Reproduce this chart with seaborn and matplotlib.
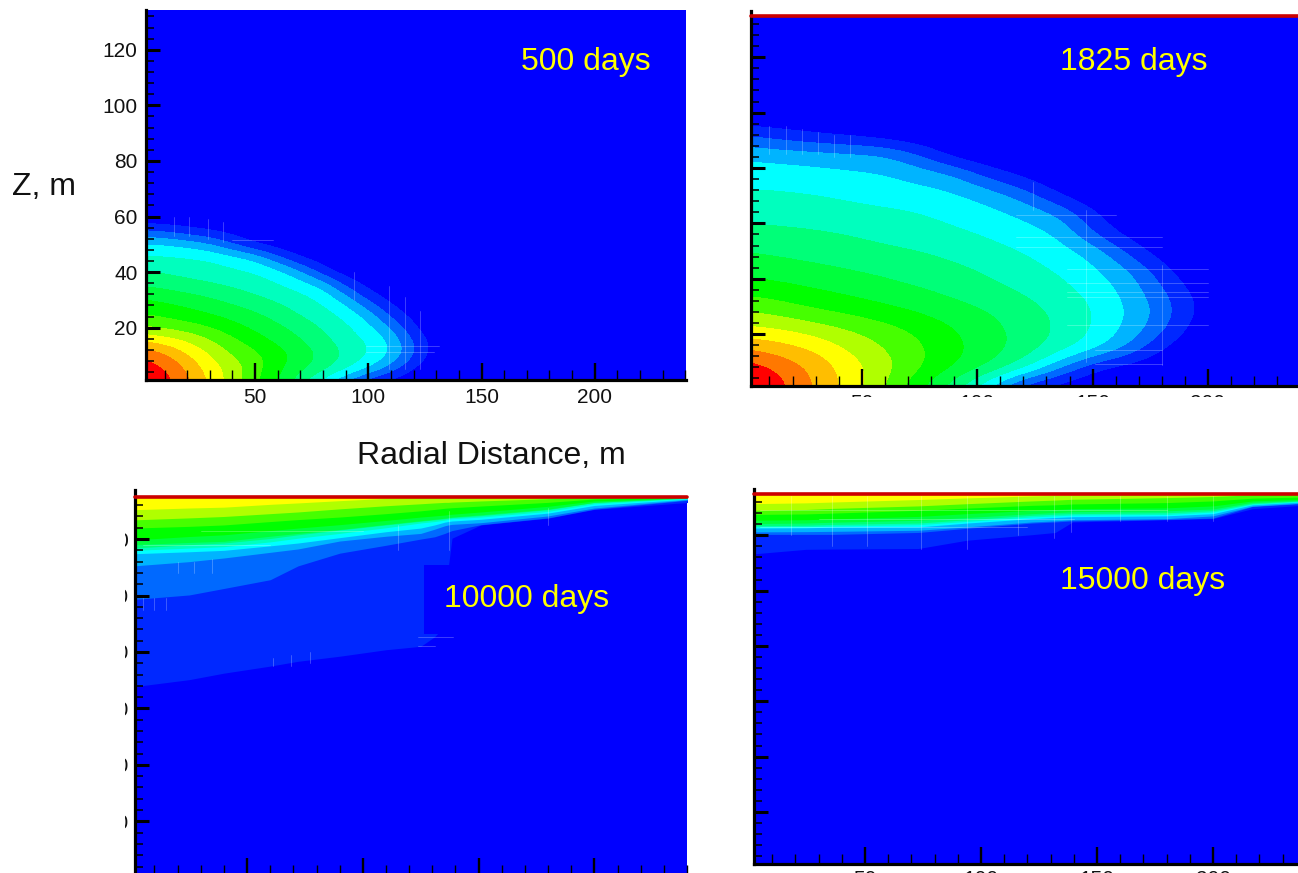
import matplotlib
matplotlib.use('Agg')
import matplotlib.pyplot as plt
import seaborn as sns
from matplotlib.colors import BoundaryNorm, ListedColormap
from matplotlib.ticker import MultipleLocator
from matplotlib.transforms import Bbox

W, H = 1298, 873

# band colours, blue background up to red core
band_colors = ['#0000ff', '#0028ff', '#0069ff', '#00b4ff', '#00ffff', '#00ffbe', '#00ff78', '#00ff3c',
               '#00ff00', '#46ff00', '#b0ff00', '#ffff00', '#ffbe00', '#ff7800', '#ff0000']
band_levels = [-5, 1, 2, 3, 4, 5, 6, 7, 8, 9, 10, 11, 12, 13, 14, 20]

r_500 = [0, 10, 20, 30, 40, 50, 60, 70, 80, 90, 100, 110, 120, 130, 140]
z_500 = [0, 5, 10, 15, 20, 25, 30, 35, 40, 45, 50, 55, 60]
band_500 = [
    [15.0, 14.5, 13.3, 11.85, 10.45, 9.1, 7.9, 6.3, 4.3, 2.5, 0.85, 0.3, 0, 0, 0],
    [14.5, 14.2, 12.9, 11.55, 10.65, 9.4, 8.25, 7.2, 6.4, 5.1, 4.0, 2.4, 0.8, 0, 0],
    [14.1, 13.3, 12.1, 11.1, 9.95, 9.3, 8.5, 7.65, 6.75, 5.9, 5.0, 4.0, 2.0, 0.3, 0],
    [12.2, 11.65, 11.1, 10.15, 9.3, 8.55, 7.8, 7.15, 6.35, 5.55, 5.0, 3.85, 2.0, 0.4, 0],
    [10.1, 9.85, 9.5, 9.05, 8.45, 7.8, 7.25, 6.6, 5.9, 5.25, 4.3, 3.0, 1.1, 0, 0],
    [9.0, 8.7, 8.35, 8.0, 7.55, 7.15, 6.55, 5.9, 5.35, 4.7, 3.5, 1.6, 0.5, 0, 0],
    [8.1, 7.85, 7.55, 7.15, 6.75, 6.3, 5.85, 5.4, 4.85, 3.6, 1.8, 0.7, 0, 0, 0],
    [7.0, 6.75, 6.45, 6.2, 5.9, 5.55, 5.15, 4.65, 3.8, 1.9, 0.7, 0, 0, 0, 0],
    [6.1, 5.9, 5.65, 5.45, 5.2, 5.0, 4.4, 3.2, 1.5, 0.4, 0, 0, 0, 0, 0],
    [5.25, 5.15, 5.1, 4.95, 4.45, 3.85, 2.3, 1.0, 0.3, 0, 0, 0, 0, 0, 0],
    [4.15, 4.05, 3.65, 3.1, 2.0, 0.9, 0.35, 0, 0, 0, 0, 0, 0, 0, 0],
    [1.95, 1.7, 1.25, 0.85, 0.5, 0, 0, 0, 0, 0, 0, 0, 0, 0, 0],
    [0, 0, 0, 0, 0, 0, 0, 0, 0, 0, 0, 0, 0, 0, 0],
]

r_1825 = [0, 15, 30, 45, 60, 75, 90, 105, 120, 135, 150, 165, 180, 195, 210]
z_1825 = [1, 8, 15, 22, 29, 36, 43, 50, 57, 64, 71, 78, 85, 92, 99]
band_1825 = [
    [15.5, 14.3, 12.9, 11.6, 10.0, 8.1, 6.4, 3.85, 1.0, 0.3, 0, 0, 0, 0, 0],
    [14.7, 13.8, 12.75, 11.5, 10.4, 9.15, 8.05, 7.05, 5.5, 3.2, 1.0, 0.3, 0, 0, 0],
    [13.0, 12.5, 11.85, 10.85, 10.0, 9.2, 8.3, 7.5, 6.65, 5.6, 4.5, 3.0, 0.9, 0, 0],
    [11.2, 11.0, 10.5, 9.95, 9.4, 8.75, 8.05, 7.35, 6.65, 5.9, 5.0, 3.8, 2.3, 0.4, 0],
    [9.95, 9.5, 9.0, 8.65, 8.25, 7.85, 7.4, 6.97, 6.4, 5.8, 5.05, 4.0, 2.65, 0.85, 0],
    [8.65, 8.4, 8.05, 7.75, 7.4, 7.1, 6.7, 6.3, 5.9, 5.35, 4.7, 3.7, 2.15, 0.6, 0],
    [7.75, 7.5, 7.3, 7.05, 6.8, 6.5, 6.25, 5.9, 5.4, 4.95, 4.25, 3.25, 1.4, 0, 0],
    [7.0, 6.8, 6.6, 6.35, 6.2, 6.05, 5.75, 5.35, 5.0, 4.45, 3.7, 1.8, 0.3, 0, 0],
    [6.25, 6.2, 6.1, 5.95, 5.7, 5.4, 5.15, 4.85, 4.4, 3.95, 1.9, 0.5, 0, 0, 0],
    [5.7, 5.6, 5.45, 5.3, 5.2, 5.05, 4.7, 4.3, 3.8, 2.9, 1.1, 0, 0, 0, 0],
    [5.15, 5.1, 5.0, 4.8, 4.55, 4.35, 4.1, 3.5, 2.45, 0.8, 0, 0, 0, 0, 0],
    [4.55, 4.45, 4.3, 4.15, 4.05, 3.6, 3.1, 1.5, 0.6, 0, 0, 0, 0, 0, 0],
    [3.8, 3.65, 3.5, 3.35, 3.15, 2.0, 0.4, 0, 0, 0, 0, 0, 0, 0, 0],
    [2.0, 1.45, 1.0, 0.7, 0.3, 0, 0, 0, 0, 0, 0, 0, 0, 0, 0],
    [0, 0, 0, 0, 0, 0, 0, 0, 0, 0, 0, 0, 0, 0, 0],
]

# height of each band's lower edge at the radial stations, late times
r_10000 = [1, 25, 40, 60, 72, 90, 110, 125, 131, 135.4, 136.9, 138.5, 151, 180, 200, 241]
edges_10000 = [
    [67.7, 70.2, 72.5, 75, 76.7, 78.5, 80.8, 82, 85.4, 89.3, 110, 120.3, 125, 127.4, 130.5, 133],
    [98.6, 100.2, 102.5, 105.6, 110.5, 115, 117.8, 120, 120.8, 122, 122.5, 123, 125.1, 127.5, 130.6, 133.8],
    [110.5, 112, 113.3, 115.3, 116.5, 119.3, 121, 122, 123.5, 124.7, 125, 125.2, 125.8, 128.2, 131, 134],
    [114.8, 115.5, 116, 117.6, 118.6, 120.5, 122.6, 123.9, 125, 126, 126.2, 126.4, 127, 129.2, 131.9, 134.2],
    [116, 116.8, 117.3, 119, 120.3, 122, 124, 125.7, 126.2, 126.7, 127, 127.2, 127.8, 129.8, 132.5, 134.4],
    [116.8, 118, 118.6, 120.2, 121.5, 123.2, 125, 126.3, 126.8, 127.2, 127.4, 127.6, 128.3, 130.4, 133, 134.5],
    [118, 118.8, 119.2, 121, 122, 123.4, 125.2, 126.5, 127, 127.4, 127.6, 127.8, 128.6, 130.6, 133, 134.6],
    [119.7, 120.9, 121.5, 123, 123.9, 125.1, 126.6, 127.8, 128.2, 128.5, 128.7, 128.8, 129.6, 131.6, 133.5, 134.7],
    [123.9, 124.5, 125, 126.2, 126.9, 127.8, 129, 130, 130.5, 130.9, 131, 131.1, 131.7, 133, 134.2, 134.8],
    [126.8, 127.5, 128, 129, 129.6, 130.7, 131.8, 132.5, 132.8, 133, 133, 133.1, 133.5, 134.3, 134.8, 135],
    [130.4, 131, 131.3, 132.3, 132.8, 133.6, 134.4, 134.7, 134.9, 135, 135, 135, 135, 135, 135, 135],
]

r_15000 = [1, 24.5, 36, 73, 94, 122, 132, 139.5, 180, 200, 217, 238]
edges_15000 = [
    [113.2, 114.9, 115, 115.2, 118.2, 120.2, 121, 124.8, 125.6, 126, 129.6, 130.8],
    [120.3, 120.3, 120.3, 121, 122.5, 124.4, 124.8, 125.2, 125.7, 126.2, 130.4, 131.4],
    [121.2, 121.3, 121.4, 121.8, 123, 124.8, 125.2, 125.6, 126, 127, 130.5, 131.6],
    [122.6, 122.7, 122.9, 123, 124.4, 126, 126.4, 126.7, 127, 127.8, 131, 132],
    [123, 123.1, 123.3, 123.8, 125, 126.6, 127, 127.3, 127.5, 128.4, 131.2, 132.2],
    [123.4, 123.6, 123.9, 124.4, 125.6, 127.2, 127.6, 127.8, 128.1, 128.9, 131.5, 132.4],
    [124.2, 124.4, 124.7, 125.4, 126.4, 127.8, 128.2, 128.5, 128.8, 129.5, 131.9, 132.6],
    [125.4, 125.6, 125.9, 126.8, 127.8, 129, 129.3, 129.6, 129.9, 130.6, 132.4, 133],
    [127.5, 127.7, 128, 129, 129.8, 130.8, 131, 131.3, 131.8, 132.4, 133.4, 133.8],
    [129, 129.3, 129.7, 130.6, 131.4, 132.4, 132.7, 133, 133.6, 134, 134.6, 134.9],
    [131.4, 131.7, 132, 132.9, 133.5, 134.2, 134.4, 134.5, 134.9, 135, 135, 135],
]

# faint mesh traces left by the contouring: vertical (r, low, high), horizontal (z, from, to)
mesh_v_500 = [(14, 53, 60), (21, 53, 60), (29, 52, 59), (36, 51, 58), (93.5, 30, 40), (109, 5, 35),
              (116, 5, 31), (123, 5, 26)]
mesh_h_500 = [(51.5, 40, 58), (13.6, 99, 131), (11.2, 99, 129)]
mesh_v_1825 = [(10, 85, 95), (17, 85, 95), (24, 85, 94), (31, 85, 93), (38, 84, 92), (45, 84, 92),
               (124, 65, 75), (147, 10, 65), (180, 9, 45)]
mesh_h_1825 = [(63, 117, 160), (55, 117, 180), (51.6, 117, 180), (43.7, 139, 200), (38.6, 139, 200),
               (35.3, 139, 200), (33.6, 139, 200), (23.4, 139, 200), (14.3, 151, 180), (9.4, 151, 180)]
mesh_v_10000 = [(5, 95, 99), (10, 95, 99), (15, 95, 99), (20, 108, 112), (27, 108, 112), (35, 108, 113),
                (61, 75, 78), (69, 75, 79), (77, 76, 80), (115, 116, 125), (137, 116, 130), (180, 125, 131)]
mesh_h_10000 = [(85.4, 124, 139), (82, 124, 131), (118, 5, 60), (123, 30, 100)]
mesh_v_15000 = [(18, 120, 134), (36, 116, 134), (51, 116, 134), (74, 115, 134), (94, 115, 134),
                (116, 120, 134), (131.6, 119, 134), (139, 121, 134), (160, 125, 134), (180, 125, 134),
                (200, 125, 134)]
mesh_h_15000 = [(123, 5, 120), (126, 30, 140), (129, 5, 180)]

x_ticks = [50, 100, 150, 200]
y_ticks = [20, 40, 60, 80, 100, 120]

sns.set_theme(style='ticks')
plt.rcParams['font.family'] = ['Liberation Sans', 'DejaVu Sans']

band_cmap = ListedColormap(sns.color_palette(band_colors))
band_norm = BoundaryNorm(band_levels, len(band_colors))

fig = plt.figure(figsize=(W / 100, H / 100), dpi=100)


def make_axes(left, top, right, bottom, xlim, ylim):
    ax = fig.add_axes([left / W, 1 - bottom / H, (right - left) / W, (bottom - top) / H])
    ax.set_facecolor(band_colors[0])
    ax.set_axisbelow(False)
    sns.despine(ax=ax)
    for side in ['left', 'bottom']:
        ax.spines[side].set_linewidth(2.3)
        ax.spines[side].set_color('black')
    ax.set_xticks(x_ticks)
    ax.set_yticks(y_ticks)
    ax.xaxis.set_minor_locator(MultipleLocator(10))
    ax.yaxis.set_minor_locator(MultipleLocator(4))
    ax.tick_params(axis='x', which='major', direction='in', length=12, width=1.7, labelsize=15, pad=6,
                   color='black', labelcolor='#111111')
    ax.tick_params(axis='x', which='minor', direction='in', length=7, width=1, color='black')
    ax.tick_params(axis='y', which='major', direction='in', length=10, width=2.2, labelsize=15, pad=6,
                   color='black', labelcolor='#111111')
    ax.tick_params(axis='y', which='minor', direction='in', length=6, width=1.1, color='black')
    ax.set_xlim(*xlim)
    ax.set_ylim(*ylim)
    return ax


def draw_contours(ax, r, z, band):
    dr = (r[1] - r[0]) / 2
    dz = (z[1] - z[0]) / 2
    ax.imshow(band, origin='lower', aspect='auto', extent=(r[0] - dr, r[-1] + dr, z[0] - dz, z[-1] + dz),
              cmap=band_cmap, norm=band_norm, interpolation='bicubic', interpolation_stage='data')


def draw_layers(ax, r, edges):
    for k, edge in enumerate(edges):
        ax.fill_between(r, edge, 140, color=band_colors[k + 1], linewidth=0)


def draw_mesh(ax, vertical, horizontal):
    for r, low, high in vertical:
        ax.plot([r, r], [low, high], color='white', alpha=0.28, lw=0.6, zorder=2)
    for z, start, end in horizontal:
        ax.plot([start, end], [z, z], color='white', alpha=0.28, lw=0.6, zorder=2)


def clip_labels(labels, left=0, top=0, right=W, bottom=H):
    box = Bbox([[left, H - bottom], [right, H - top]])
    for label in labels:
        label.set_clip_box(box)
        label.set_clip_on(True)


def surface_line(ax, top):
    ax.axhline(134.9, color='#cc0000', lw=2.6, clip_on=False, zorder=5)
    ax.spines['left'].set_bounds(ax.get_ylim()[0], top)


ax_a = make_axes(146, 10, 686, 380, (1.8, 240.3), (1.2, 134.3))
draw_contours(ax_a, r_500, z_500, band_500)
draw_mesh(ax_a, mesh_v_500, mesh_h_500)
ax_a.set_xlim(1.8, 240.3)
ax_a.set_ylim(1.2, 134.3)
ax_a.text(167.4, 115.6, '500 days', color='yellow', fontsize=23, va='center')

ax_b = make_axes(751, 16, 1298, 385.7, (2, 239), (1.4, 134.9))
draw_contours(ax_b, r_1825, z_1825, band_1825)
draw_mesh(ax_b, mesh_v_1825, mesh_h_1825)
ax_b.set_xlim(2, 239)
ax_b.set_ylim(1.4, 134.9)
surface_line(ax_b, 136.8)
ax_b.tick_params(axis='y', which='major', labelleft=False)
clip_labels(ax_b.get_xticklabels(), bottom=397)
ax_b.text(136, 118.2, '1825 days', color='yellow', fontsize=23, va='center')

ax_c = make_axes(135, 497, 687, 875, (1.6, 240), (1, 134.9))
draw_layers(ax_c, r_10000, edges_10000)
draw_mesh(ax_c, mesh_v_10000, mesh_h_10000)
surface_line(ax_c, 137.4)
ax_c.tick_params(axis='x', which='major', labelbottom=False)
ax_c.tick_params(axis='y', which='major', pad=4.5)
clip_labels(ax_c.get_yticklabels(), left=125)
ax_c.text(135, 98.6, '10000 days', color='yellow', fontsize=23, va='center',
          bbox=dict(facecolor=band_colors[0], edgecolor='none', pad=14), zorder=4)

ax_d = make_axes(754, 494, 1298, 864, (2.2, 236.6), (1.2, 134.9))
draw_layers(ax_d, r_15000, edges_15000)
draw_mesh(ax_d, mesh_v_15000, mesh_h_15000)
surface_line(ax_d, 136.8)
ax_d.tick_params(axis='y', which='major', labelleft=False)
ax_d.tick_params(axis='x', which='major', pad=4.5)
ax_d.text(134, 103.5, '15000 days', color='yellow', fontsize=23, va='center')

fig.text(12 / W, 1 - 187 / H, 'Z, m', fontsize=23, color='#111111', ha='left', va='center')
fig.text(491 / W, 1 - 456 / H, 'Radial Distance, m', fontsize=23, color='#111111', ha='center', va='center')

fig.savefig('out.png', dpi=100)
